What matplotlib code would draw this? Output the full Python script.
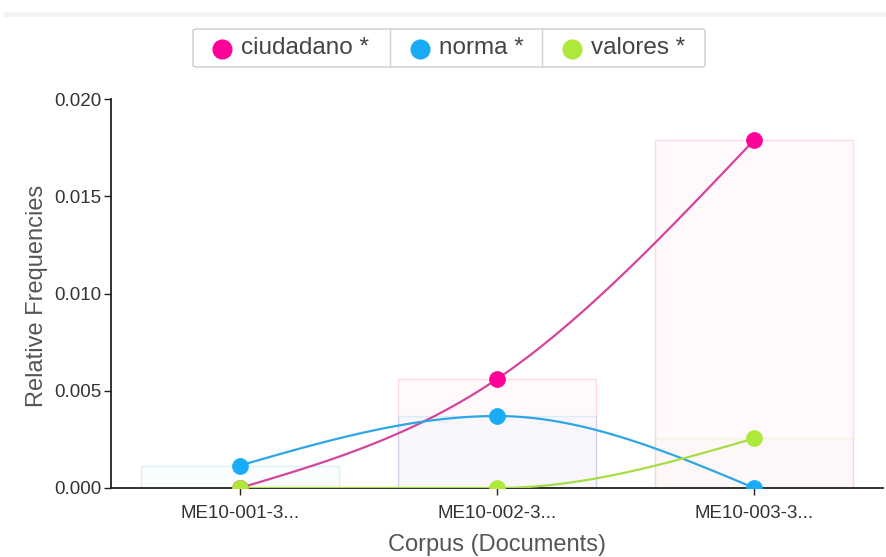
import matplotlib
matplotlib.use('Agg')
import matplotlib.pyplot as plt
import numpy as np
from matplotlib.patches import FancyBboxPatch, Rectangle
from matplotlib.lines import Line2D

# ---- data ----
documents = ["ME10-001-3...", "ME10-002-3...", "ME10-003-3..."]
terms = ["ciudadano *", "norma *", "valores *"]
ciudadano = [0.0, 0.0056, 0.0179]
norma = [0.00115, 0.0037, 0.0]
valores = [0.0, 0.0, 0.00255]
y_ticks = [0.000, 0.005, 0.010, 0.015, 0.020]

series = [ciudadano, norma, valores]
marker_colors = ["#ff0099", "#1aabf7", "#aee83a"]
line_colors = ["#d4449c", "#2ea6e6", "#a8dc44"]

plt.rcParams['font.family'] = ['Liberation Sans', 'DejaVu Sans']


def monotone_x(x, y, n=60):
    """d3 curveMonotoneX evaluated as dense points."""
    x = np.asarray(x, float); y = np.asarray(y, float)
    m = len(x)
    t = np.zeros(m)
    for i in range(1, m - 1):
        h0 = x[i] - x[i - 1]; h1 = x[i + 1] - x[i]
        s0 = (y[i] - y[i - 1]) / h0; s1 = (y[i + 1] - y[i]) / h1
        p = (s0 * h1 + s1 * h0) / (h0 + h1)
        t[i] = (np.sign(s0) + np.sign(s1)) * min(abs(s0), abs(s1), 0.5 * abs(p))
    h = x[1] - x[0]
    t[0] = (3 * (y[1] - y[0]) / h - t[1]) / 2
    h = x[-1] - x[-2]
    t[-1] = (3 * (y[-1] - y[-2]) / h - t[-2]) / 2
    xs, ys = [], []
    for i in range(m - 1):
        dx = (x[i + 1] - x[i]) / 3
        P0 = np.array([x[i], y[i]])
        P1 = np.array([x[i] + dx, y[i] + dx * t[i]])
        P2 = np.array([x[i + 1] - dx, y[i + 1] - dx * t[i + 1]])
        P3 = np.array([x[i + 1], y[i + 1]])
        u = np.linspace(0, 1, n)[:, None]
        B = ((1 - u) ** 3) * P0 + 3 * ((1 - u) ** 2) * u * P1 + 3 * (1 - u) * u ** 2 * P2 + u ** 3 * P3
        xs.extend(B[:, 0]); ys.extend(B[:, 1])
    return np.array(xs), np.array(ys)


fig = plt.figure(figsize=(8.86, 5.57), dpi=100)
ax = fig.add_axes([111 / 886, 1 - 488 / 557, (883 - 111) / 886, (488 - 99) / 557])

# top gray strip
fig.patches.append(Rectangle((4 / 886, 1 - 17 / 557), 1, 5 / 557, transform=fig.transFigure,
                             facecolor="#f3f3f3", edgecolor="none"))

xpos = np.arange(len(documents))

# faint background bars
for vals, mc in zip(series, marker_colors):
    for i, v in enumerate(vals):
        if v > 0:
            ax.bar(xpos[i], v, width=0.77, facecolor=matplotlib.colors.to_rgba(mc, 0.025),
                   edgecolor=matplotlib.colors.to_rgba(mc, 0.15), linewidth=1.0, zorder=1)

# smooth lines with markers
for vals, mc, lc in zip(series, marker_colors, line_colors):
    sx, sy = monotone_x(xpos, vals)
    ax.plot(sx, sy, color=lc, lw=1.6, zorder=3, solid_capstyle='round')
for vals, mc, lc in zip(series, marker_colors, line_colors):
    ax.plot(xpos, vals, 'o', color=mc, markersize=11.5, markeredgecolor=mc,
            markeredgewidth=0.5, zorder=4)

ax.set_xlim(-0.5, 2.5)
ax.set_ylim(0, 0.020)
ax.set_yticks(y_ticks)
ax.set_yticklabels([f"{v:.3f}" for v in y_ticks])
ax.set_xticks(xpos)
ax.set_xticklabels(documents)
for s in ['top', 'right']:
    ax.spines[s].set_visible(False)
ax.spines['left'].set_color('#222')
ax.spines['bottom'].set_color('#222')
ax.spines['left'].set_linewidth(1.3)
ax.spines['bottom'].set_linewidth(1.3)
ax.tick_params(axis='both', length=5, width=1.0, color='#222', labelsize=13.5, labelcolor='#333')
ax.tick_params(axis='y', pad=2)
ax.tick_params(axis='x', pad=7.5)

fig.text(37 / 886, 1 - 296 / 557, "Relative Frequencies", rotation=90, ha='center', va='center',
         fontsize=17, color='#555')
fig.text(497 / 886, 1 - 545 / 557, "Corpus (Documents)", ha='center', va='center',
         fontsize=17, color='#555')

# legend
lx0, lx1, ly0, ly1 = 193, 705, 29, 67
fig.patches.append(FancyBboxPatch((lx0 / 886, 1 - ly1 / 557), (lx1 - lx0) / 886, (ly1 - ly0) / 557,
                                  boxstyle="round,pad=0,rounding_size=0.004", transform=fig.transFigure,
                                  facecolor='white', edgecolor='#cccccc', linewidth=1.0))
cells = [193, 390, 542, 705]
for d in cells[1:-1]:
    fig.add_artist(Line2D([d / 886, d / 886], [1 - ly1 / 557, 1 - ly0 / 557], transform=fig.transFigure,
                          color='#d0d0d0', lw=1.0))
marker_x = [222, 420, 572]
for name, mc, mxp in zip(terms, marker_colors, marker_x):
    fig.add_artist(Line2D([mxp / 886], [1 - 49 / 557], marker='o', markersize=13.5, color=mc,
                          markeredgecolor=mc, transform=fig.transFigure))
    fig.text((mxp + 19) / 886, 1 - 48 / 557, name, ha='left', va='center', fontsize=17.5, color='#444')

fig.savefig("out.png", dpi=100)
